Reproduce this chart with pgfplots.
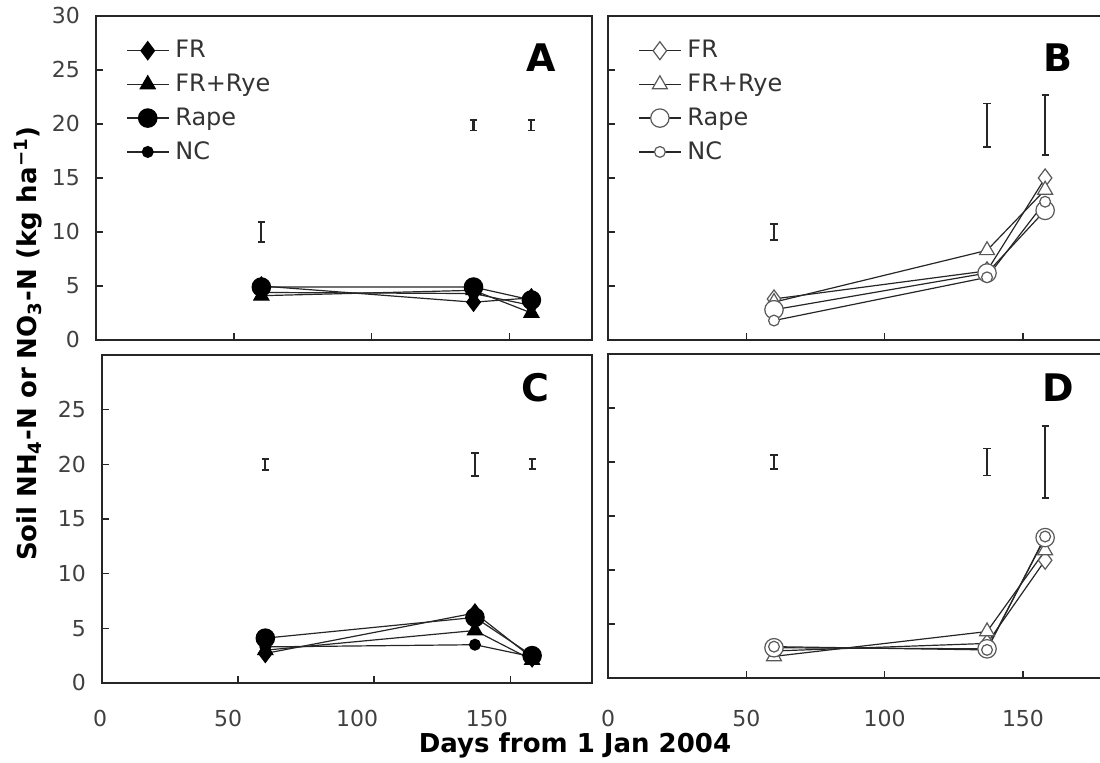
\documentclass[border=0pt]{standalone}
\usepackage{fontspec}
\setmainfont{DejaVu Sans}
\usepackage{pgfplots}
\pgfplotsset{compat=1.18}

\pgfplotsset{
  panel/.style={
    scale only axis, anchor=south west,
    xmin=0, xmax=180, ymin=0, ymax=30,
    xtick={0,50,100,150}, ytick={0,5,...,30},
    tick align=inside, xtick pos=lower, ytick pos=left,
    major tick length=3.5pt,
    axis line style={line width=1pt, black!85},
    every tick/.style={black!85, line width=0.8pt},
    tick label style={font=\fontsize{11}{13}\selectfont, black!75},
    yticklabel style={xshift=-4.5pt},
    /pgf/number format/assume math mode=true,
    clip=false,
    legend cell align=left,
    legend image code/.code={\draw[mark repeat=2,mark phase=2] plot coordinates {(0pt,0pt) (10.5pt,0pt) (21pt,0pt)};},
    legend style={at={(0.06,0.935)}, anchor=north west, draw=none, fill=none,
      inner sep=0pt, row sep=3.6pt, font=\fontsize{12}{13}\selectfont,
      nodes={inner ysep=1.5pt, inner xsep=3pt, text=black!80}},
  },
  ser/.style={black!85, line width=0.6pt},
  fr/.style={ser, mark=diamond*, mark size=4.5pt},
  rye/.style={ser, mark=triangle*, mark size=4.3pt},
  rape/.style={ser, mark=*, mark size=4.6pt},
  nc/.style={ser, mark=*, mark size=2.7pt},
  filled/.style={mark options={solid, fill=black, draw=black}},
  open/.style={mark options={solid, fill=white, draw=black!65, line width=0.6pt}},
  errs/.style={draw=none, mark=none, forget plot,
    error bars/.cd, y dir=both, y explicit,
    error bar style={draw=black!85, line width=1.1pt},
    error mark options={draw=black!85, rotate=90, line width=0.9pt, mark size=1.8pt}},
}
\tikzset{letter/.style={font=\bfseries\fontsize{19}{22}\selectfont},
  xlab/.style={anchor=north, font=\fontsize{11}{13}\selectfont, text=black!75, yshift=-10pt}}

\begin{document}
\begin{tikzpicture}

% A
\begin{axis}[panel, at={(48pt,211.5pt)}, width=248pt, height=162pt, xticklabels={}]
\addplot[fr, filled] coordinates {(60,5.0) (137,3.5) (158,3.9)};
\addplot[rye, filled] coordinates {(60,4.1) (137,4.6) (158,2.5)};
\addplot[rape, filled] coordinates {(60,4.9) (137,4.9) (158,3.7)};
\addplot[nc, filled] coordinates {(60,4.4) (137,4.3) (158,3.2)};
\addplot[errs] coordinates {(60,10) +- (0,0.9) (137,19.9) +- (0,0.5) (158,19.9) +- (0,0.5)};
\legend{FR, FR+Rye, Rape, NC}
\node[letter] at (rel axis cs:0.897,0.87) {A};
\end{axis}

% B
\begin{axis}[panel, at={(304pt,211.5pt)}, width=249pt, height=162pt, xticklabels={}, yticklabels={}]
\addplot[fr, open] coordinates {(60,3.8) (137,6.4) (158,15.0)};
\addplot[rye, open] coordinates {(60,3.5) (137,8.3) (158,13.9)};
\addplot[rape, open] coordinates {(60,2.8) (137,6.2) (158,12.0)};
\addplot[nc, open] coordinates {(60,1.8) (137,5.8) (158,12.8)};
\addplot[errs] coordinates {(60,10) +- (0,0.75) (137,19.9) +- (0,2.0) (158,19.9) +- (0,2.8)};
\legend{FR, FR+Rye, Rape, NC}
\node[letter] at (rel axis cs:0.904,0.87) {B};
\end{axis}

% C (tick labels in the source sit left of their ticks)
\begin{axis}[panel, at={(51pt,40pt)}, width=245pt, height=164pt, ytick={0,5,...,25}, xticklabels={}]
\addplot[fr, filled] coordinates {(60,2.7) (137,6.4) (158,2.3)};
\addplot[rye, filled] coordinates {(60,3.0) (137,4.8) (158,2.1)};
\addplot[rape, filled] coordinates {(60,4.1) (137,6.0) (158,2.5)};
\addplot[nc, filled] coordinates {(60,3.3) (137,3.5) (158,2.4)};
\addplot[errs] coordinates {(60,20) +- (0,0.5) (137,20) +- (0,1.05) (158,20) +- (0,0.45)};
\node[letter] at (rel axis cs:0.884,0.90) {C};
\node[xlab] at (axis cs:-0.7,0) {0};
\node[xlab] at (axis cs:46.3,0) {50};
\node[xlab] at (axis cs:93.7,0) {100};
\node[xlab] at (axis cs:141.4,0) {150};
\end{axis}

% D
\begin{axis}[panel, at={(304pt,42.5pt)}, width=249pt, height=162pt, ytick={0,5,...,25}, yticklabels={},
  xticklabel style={yshift=-12.5pt}]
\addplot[fr, open] coordinates {(60,2.5) (137,3.2) (158,10.9)};
\addplot[rye, open] coordinates {(60,2.0) (137,4.3) (158,11.8)};
\addplot[rape, open] coordinates {(60,2.8) (137,2.7) (158,13.0)};
\addplot[nc, open] coordinates {(60,2.9) (137,2.6) (158,13.1)};
\addplot[errs] coordinates {(60,20) +- (0,0.65) (137,20) +- (0,1.25) (158,20) +- (0,3.3)};
\node[letter] at (rel axis cs:0.904,0.895) {D};
\end{axis}

\node[rotate=90, font=\bfseries\fontsize{13}{15}\selectfont] at (14pt,209.7pt)
  {Soil NH\textsubscript{4}-N or NO\textsubscript{3}-N (kg ha\textsuperscript{−1})};
\node[font=\bfseries\fontsize{13}{15}\selectfont] at (287.5pt,9pt) {Days from 1 Jan 2004};

\pgfresetboundingbox
\useasboundingbox (0,0) rectangle (550pt,381.5pt);
\end{tikzpicture}
\end{document}
